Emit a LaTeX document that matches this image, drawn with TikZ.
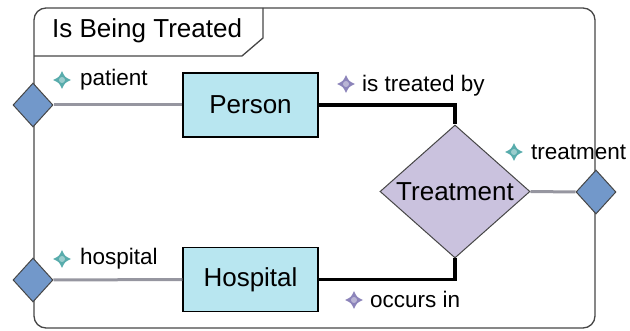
\documentclass[tikz,border=0pt]{standalone}
\usepackage{fontspec}
\setmainfont{Liberation Sans}
\usetikzlibrary{shapes.geometric}
\definecolor{framegray}{RGB}{70,70,70}
\definecolor{boxfill}{RGB}{184,230,240}
\definecolor{relfill}{RGB}{202,194,222}
\definecolor{portfill}{RGB}{114,152,202}
\definecolor{rolegray}{RGB}{150,150,160}
\definecolor{tealstar}{RGB}{88,172,172}
\definecolor{violetstar}{RGB}{140,132,186}
\tikzset{
  entity/.style={draw=black, line width=1.3pt, fill=boxfill, minimum width=135pt, minimum height=64pt, font=\fontsize{26}{30}\selectfont, inner sep=0pt},
  relation/.style={diamond, draw=framegray, line width=1pt, fill=relfill, minimum width=150pt, minimum height=133pt, inner sep=0pt, aspect=1.13, font=\fontsize{26}{30}\selectfont},
  port/.style={diamond, draw=framegray, line width=1pt, fill=portfill, minimum width=40pt, minimum height=44pt, inner sep=0pt},
  role/.style={draw=rolegray, line width=3pt},
  assoc/.style={draw=black, line width=3.5pt},
  lbl/.style={anchor=base west, inner sep=0pt, font=\fontsize{22.5}{26}\selectfont},
  sparkle/.pic={
    \fill[pic actions] (0,-9) .. controls (2.8,-2.8) .. (9,0) .. controls (2.8,2.8) .. (0,9)
      .. controls (-2.8,2.8) .. (-9,0) .. controls (-2.8,-2.8) .. cycle;
    \fill[white, opacity=0.4] (0,0) circle (3);
  }
}
\begin{document}
\begin{tikzpicture}[x=1pt, y=-1pt]
\useasboundingbox (0,0) rectangle (630,331);
% outer frame and title tab
\draw[framegray, line width=1.3pt, rounded corners=12] (34,8) rectangle (595,328);
\draw[framegray, line width=1.3pt] (34,56) -- (242,56) -- (263,38) -- (263,8);
\node[anchor=base west, inner sep=0pt, font=\fontsize{26}{30}\selectfont] (title) at (52,38) {Is Being Treated};

% nodes
\node[entity] (person) at (250.5,105) {Person};
\node[entity] (hospital) at (250.5,279.5) {Hospital};
\node[relation] (treat) at (455,191.5) {Treatment};
\node[port] (ppatient) at (33,105) {};
\node[port] (phospital) at (33,280) {};
\node[port] (ptreatment) at (596,192) {};

% connectors
\draw[role] (ppatient.east) -- (person.west);
\draw[role] (phospital.east) -- (hospital.west);
\draw[role] (treat.east) -- (ptreatment.west);
\draw[assoc] (person.east) -| (treat.north);
\draw[assoc] (hospital.east) -| (treat.south);

% role labels
\node[lbl] (lpatient) at (80,86) {patient};
\node[lbl] (ltreatedby) at (362,92) {is treated by};
\node[lbl] (ltreatment) at (531,160) {treatment};
\node[lbl] (lhospital) at (80,265) {hospital};
\node[lbl] (loccurs) at (370,308) {occurs in};
\pic[fill=tealstar] at (62,80) {sparkle};
\pic[fill=violetstar] at (346,84) {sparkle};
\pic[fill=tealstar] at (514,152) {sparkle};
\pic[fill=tealstar] at (62,259) {sparkle};
\pic[fill=violetstar] at (354,300) {sparkle};
\end{tikzpicture}
\end{document}
